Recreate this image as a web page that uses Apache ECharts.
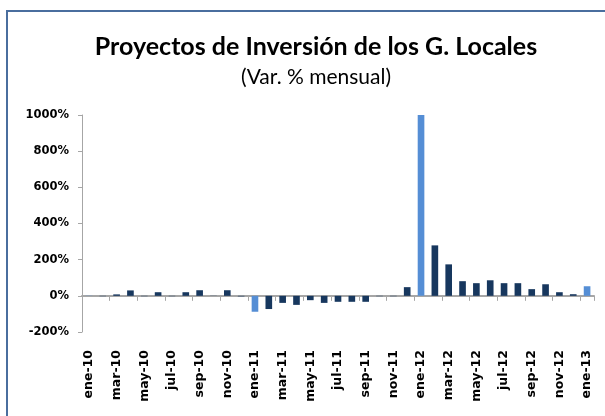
<!DOCTYPE html>
<html>
<head>
<meta charset="utf-8">
<script src="https://cdn.jsdelivr.net/npm/echarts@6/dist/echarts.min.js"></script>
<style>
    html, body {margin:0;padding:0;background:#fff;}
    #chart {width:605px;height:416px;}
</style>
</head>
<body>
<div id="chart"></div>
<script>
    // meses ene-10 .. ene-13
    var months = ['ene-10','feb-10','mar-10','abr-10','may-10','jun-10','jul-10','ago-10','sep-10','oct-10','nov-10','dic-10',
                  'ene-11','feb-11','mar-11','abr-11','may-11','jun-11','jul-11','ago-11','sep-11','oct-11','nov-11','dic-11',
                  'ene-12','feb-12','mar-12','abr-12','may-12','jun-12','jul-12','ago-12','sep-12','oct-12','nov-12','dic-12',
                  'ene-13'];
    // Var. % mensual
    var values = [1, -2, 8, 30, -2, 20, -2, 20, 31, -1, 31, -3,
                  -88, -73, -39, -50, -24, -39, -33, -33, -33, -2, -2, 48,
                  1000, 279, 174, 81, 70, 86, 70, 70, 37, 64, 20, 9,
                  53];
    var yTicks = {min: -200, max: 1000, interval: 200};

    var chart = echarts.init(document.getElementById('chart'));
    var option = {
        animation: false,
        grid: {left: 82, right: 11, top: 115, bottom: 84},
        graphic: [
            {type: 'polyline', shape: {points: [[7, 420], [7, 11], [610, 11]]},
             style: {stroke: '#4a6e9e', lineWidth: 2, fill: null}},
            {type: 'text', x: 316, y: 47,
             style: {text: 'Proyectos de Inversión de los G. Locales', font: 'bold 25px Lato',
                     fill: '#000', textAlign: 'center', textVerticalAlign: 'middle'}},
            {type: 'text', x: 316, y: 77,
             style: {text: '(Var. % mensual)', font: '21px Lato',
                     fill: '#000', textAlign: 'center', textVerticalAlign: 'middle'}}
        ],
        xAxis: [{
            type: 'category',
            data: months,
            axisLine: {onZero: true, lineStyle: {color: '#a6a6a6', width: 2}},
            axisTick: {show: true, interval: 1, length: 5, lineStyle: {color: '#a6a6a6'}},
            axisLabel: {show: false}
        }, {
            type: 'category',
            data: months,
            position: 'bottom',
            axisLine: {show: false, onZero: false},
            axisTick: {show: false},
            axisLabel: {
                interval: 1, rotate: 90, margin: 18,
                fontFamily: 'DejaVu Sans', fontWeight: 'bold', fontSize: 12.5, color: '#000'
            }
        }],
        yAxis: {
            type: 'value',
            min: yTicks.min, max: yTicks.max, interval: yTicks.interval,
            splitLine: {show: false},
            axisLine: {show: true, lineStyle: {color: '#a6a6a6'}},
            axisTick: {show: true, length: 4, lineStyle: {color: '#a6a6a6'}},
            axisLabel: {
                formatter: function (v) { return v + '%'; }, margin: 13,
                fontFamily: 'DejaVu Sans', fontWeight: 'bold', fontSize: 11.5, color: '#000'
            }
        },
        series: [{
            type: 'bar',
            data: values,
            xAxisIndex: 0,
            barWidth: '48%',
            itemStyle: {
                color: function (p) {
                    return months[p.dataIndex].indexOf('ene') === 0 ? '#558ed5' : '#17375e';
                }
            }
        }]
    };
    chart.setOption(option);
</script>
</body>
</html>
